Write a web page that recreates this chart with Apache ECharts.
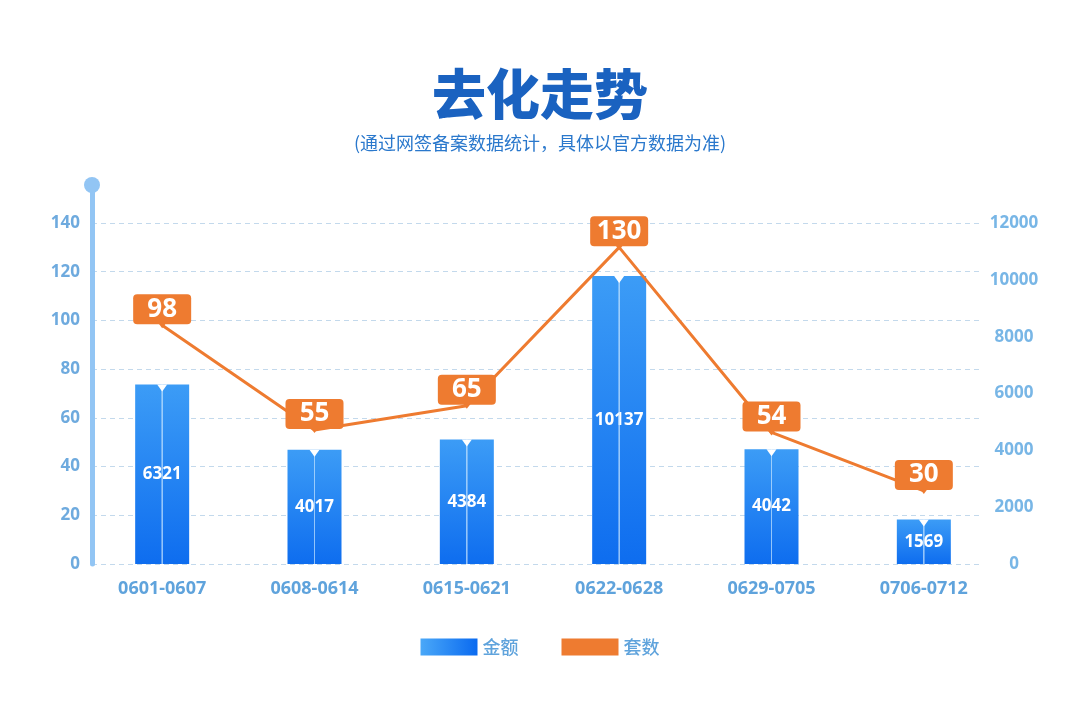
<!DOCTYPE html>
<html>
<head>
<meta charset="utf-8">
<script src="https://cdn.jsdelivr.net/npm/echarts@6/dist/echarts.min.js"></script>
<style>
	html, body {margin: 0; padding: 0; background: #fff;}
	#chart {width: 1080px; height: 722px;}
</style>
</head>
<body>
<div id="chart"></div>
<script type="text/javascript">
	// 数据
	var weeks = ['0601-0607', '0608-0614', '0615-0621', '0622-0628', '0629-0705', '0706-0712'];
	var amount = [6321, 4017, 4384, 10137, 4042, 1569];   // 金额
	var units = [98, 55, 65, 130, 54, 30];                // 套数
	var leftTicks = {min: 0, max: 140, interval: 20};
	var rightTicks = {min: 0, max: 12000, interval: 2000};

	var blue = '#5fa3dc';
	var orange = '#ee7b30';
	var numFont = '"Noto Sans", "Noto Sans CJK SC", sans-serif';

	var chart = echarts.init(document.getElementById('chart'));
	var option = {
		backgroundColor: '#fff',
		title: [{
			text: '去化走势',
			left: 'center',
			top: 62,
			textStyle: {color: '#1a62c0', fontSize: 54, fontWeight: 900, fontFamily: '"Noto Sans CJK SC"'}
		}, {
			text: '(通过网签备案数据统计，具体以官方数据为准)',
			left: 'center',
			top: 129,
			textStyle: {color: '#2a78cc', fontSize: 18, fontWeight: 'normal', fontFamily: '"Noto Sans CJK SC"'}
		}],
		legend: {
			bottom: 61,
			left: 'center',
			itemWidth: 57,
			itemHeight: 17,
			itemGap: 43,
			icon: 'rect',
			textStyle: {color: blue, fontSize: 18, fontWeight: 500, fontFamily: '"Noto Sans CJK SC"'},
			data: [{
				name: '金额',
				itemStyle: {color: new echarts.graphic.LinearGradient(0, 0, 1, 0, [
					{offset: 0, color: '#4aa8f8'}, {offset: 1, color: '#0a6af0'}
				])}
			}, {name: '套数', itemStyle: {color: orange}}]
		},
		grid: [
			{left: 86, right: 80, top: 223, bottom: 158},   // 数据
			{left: 92, right: 97, top: 223, bottom: 158},   // 网格线
			{left: 92, right: 97, top: 185, bottom: 158}    // 左轴竖线
		],
		xAxis: [{
			type: 'category',
			gridIndex: 0,
			data: weeks,
			axisLine: {show: false},
			axisTick: {show: false},
			axisLabel: {color: blue, fontSize: 18, fontWeight: 'bold', margin: 16, fontFamily: numFont}
		}, {
			type: 'value', gridIndex: 1, show: false
		}, {
			type: 'value', gridIndex: 2, show: false
		}],
		yAxis: [{
			type: 'value', gridIndex: 0,
			min: leftTicks.min, max: leftTicks.max, interval: leftTicks.interval,
			show: false, splitLine: {show: false}
		}, {
			type: 'value', gridIndex: 0, position: 'right',
			min: rightTicks.min, max: rightTicks.max, interval: rightTicks.interval,
			axisLine: {show: false}, axisTick: {show: false}, splitLine: {show: false},
			axisLabel: {
				color: '#78b6e6', fontSize: 17, fontWeight: 'bold', margin: 14, align: 'center', fontFamily: numFont,
				formatter: function (v) { return String(v); }
			}
		}, {
			type: 'value', gridIndex: 1,
			min: leftTicks.min, max: leftTicks.max, interval: leftTicks.interval,
			axisLine: {show: false}, axisTick: {show: false},
			axisLabel: {color: '#6eaade', fontSize: 17, fontWeight: 'bold', margin: 12, fontFamily: numFont},
			splitLine: {lineStyle: {color: '#c3d9ec', type: [5, 4], width: 1}}
		}, {
			type: 'value', gridIndex: 2, min: 0, max: 1,
			axisLabel: {show: false}, axisTick: {show: false}, splitLine: {show: false},
			axisLine: {
				show: true,
				lineStyle: {color: '#92c5f4', width: 5},
				symbol: ['none', 'circle'],
				symbolSize: [16, 16]
			}
		}],
		series: [{
			name: '金额',
			type: 'bar',
			xAxisIndex: 0,
			yAxisIndex: 1,
			barWidth: 54,
			data: amount,
			itemStyle: {
				color: new echarts.graphic.LinearGradient(0, 0, 0, 1, [
					{offset: 0, color: '#3c9cf6'}, {offset: 1, color: '#0e6def'}
				])
			},
			label: {
				show: true, position: 'inside', color: '#fff',
				fontSize: 17, fontWeight: 'bold', fontFamily: numFont
			},
			z: 2
		}, {
			// 柱子中间的亮线
			name: '金额高光',
			type: 'bar',
			xAxisIndex: 0,
			yAxisIndex: 1,
			barWidth: 54,
			barGap: '-100%',
			silent: true,
			data: amount,
			itemStyle: {
				color: new echarts.graphic.LinearGradient(0, 0, 1, 0, [
					{offset: 0, color: 'rgba(255,255,255,0)'},
					{offset: 0.485, color: 'rgba(255,255,255,0)'},
					{offset: 0.49, color: 'rgba(200,230,255,0.7)'},
					{offset: 0.51, color: 'rgba(200,230,255,0.7)'},
					{offset: 0.515, color: 'rgba(255,255,255,0)'},
					{offset: 1, color: 'rgba(255,255,255,0)'}
				])
			},
			z: 3
		}, {
			// 顶部小缺口
			name: '金额缺口',
			type: 'pictorialBar',
			xAxisIndex: 0,
			yAxisIndex: 1,
			silent: true,
			data: amount,
			symbol: 'triangle',
			symbolRotate: 180,
			symbolSize: [10, 7],
			symbolPosition: 'end',
			symbolOffset: [0, 0],
			itemStyle: {color: '#fff'},
			z: 4
		}, {
			name: '套数',
			type: 'line',
			xAxisIndex: 0,
			yAxisIndex: 0,
			data: units,
			symbol: 'triangle',
			symbolRotate: 180,
			symbolSize: [9, 6],
			itemStyle: {color: orange},
			lineStyle: {color: orange, width: 3},
			label: {
				show: true,
				position: 'top',
				distance: -2,
				backgroundColor: orange,
				borderRadius: 4,
				color: '#fff',
				fontSize: 26,
				fontWeight: 'bold',
				fontFamily: numFont,
				width: 50,
				height: 28,
				lineHeight: 28,
				align: 'center',
				padding: [1, 4]
			},
			z: 5
		}]
	};
	chart.setOption(option);
</script>
</body>
</html>
